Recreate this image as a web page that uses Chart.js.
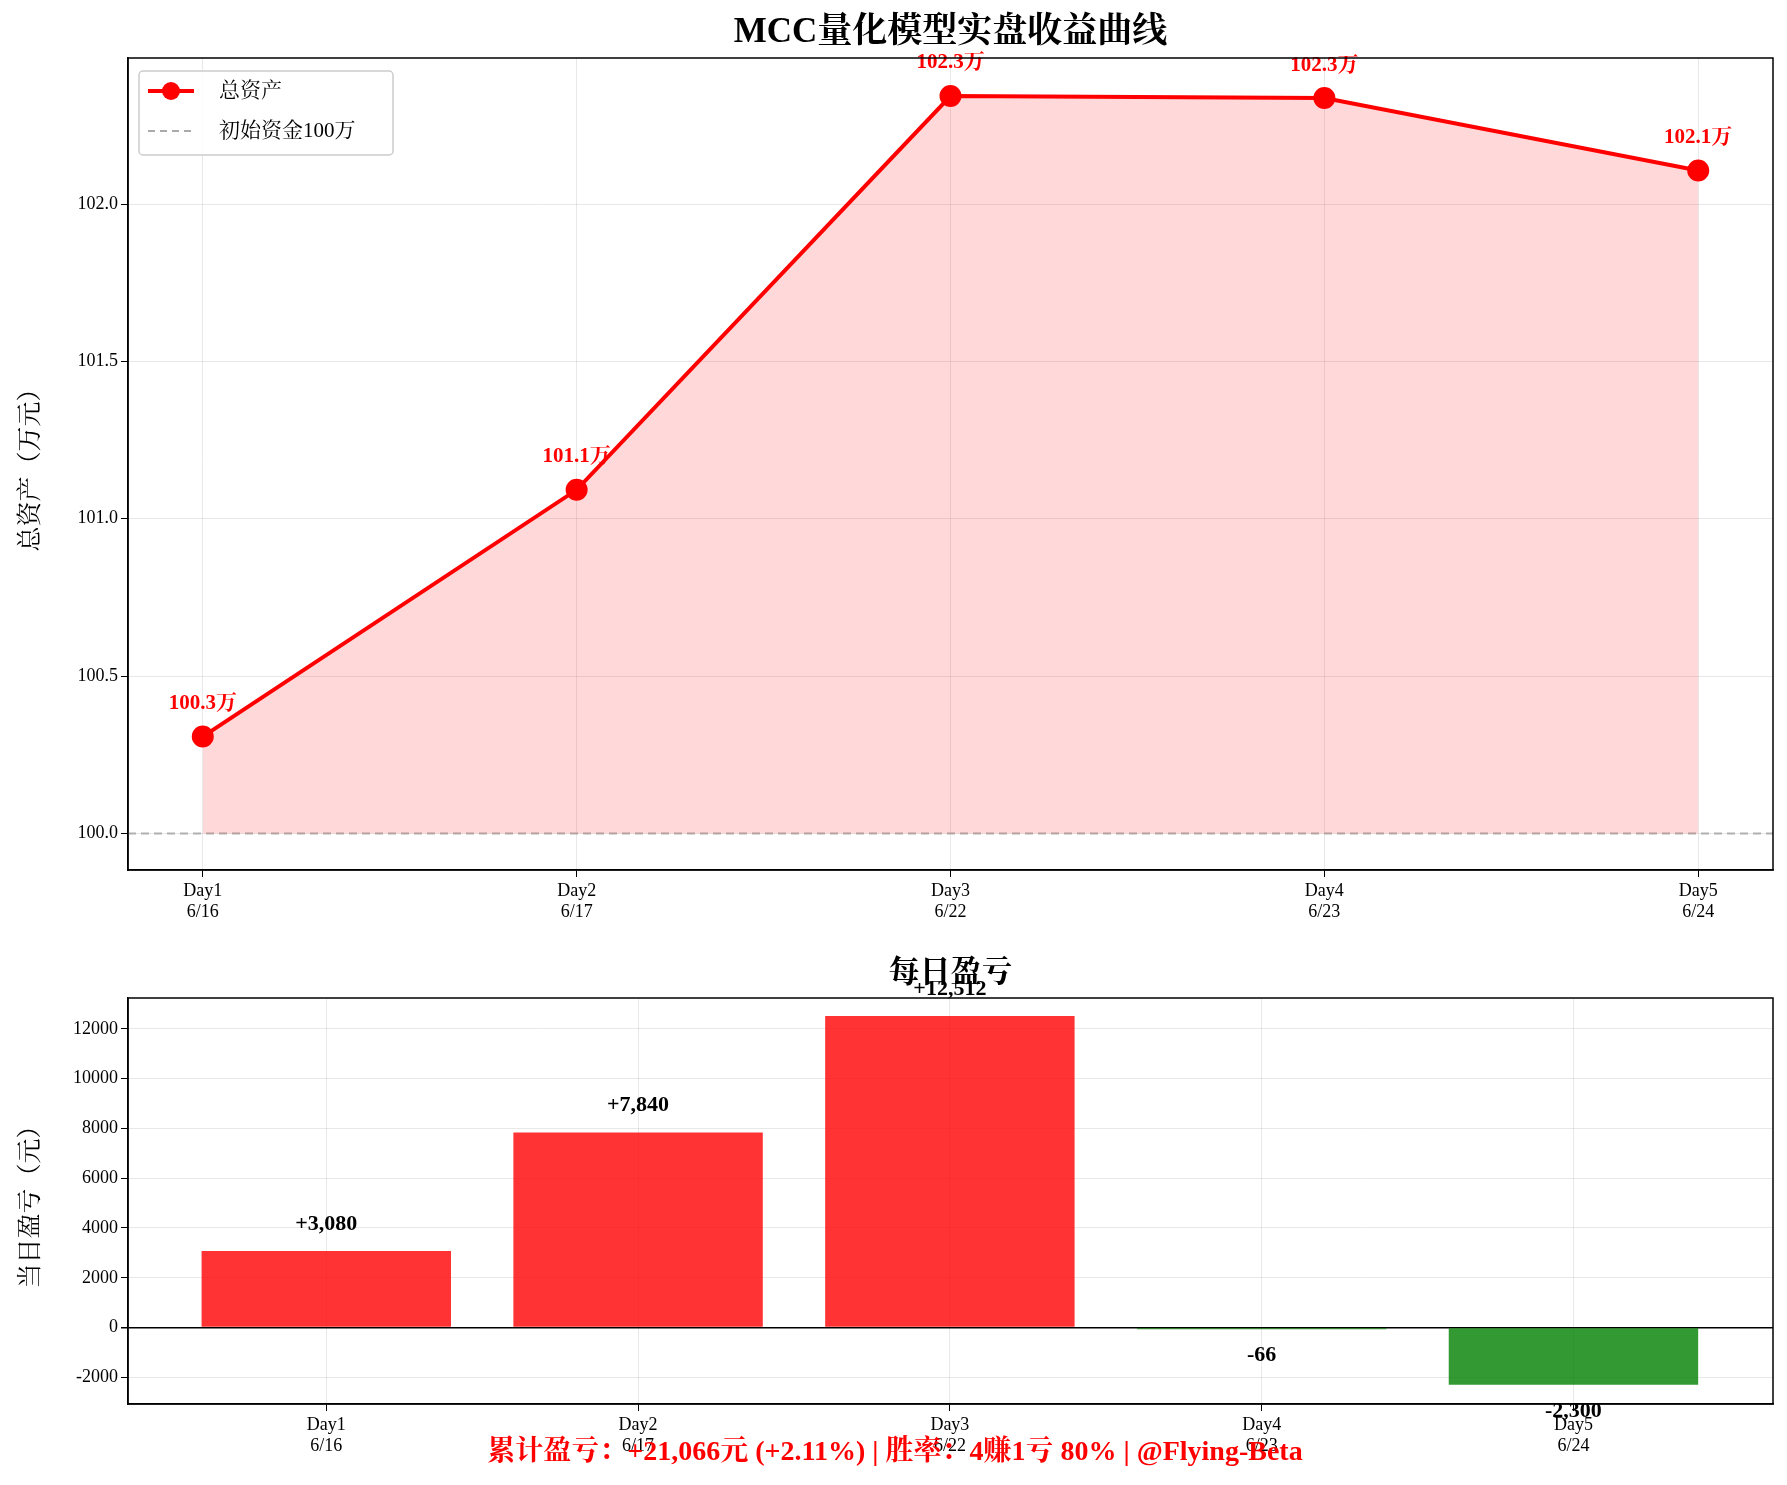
<!DOCTYPE html>
<html>
<head>
<meta charset="utf-8">
<script src="https://cdn.jsdelivr.net/npm/chart.js@4"></script>
<style>
body { margin: 0; background: #fff; }
#top { position: absolute; left: 0; top: 0; }
#bottom { position: absolute; left: 0; top: 940px; }
</style>
</head>
<body>
<canvas id="top" width="1787" height="940"></canvas>
<canvas id="bottom" width="1787" height="545"></canvas>
<script>
'use strict'
const days = ["Day1", "Day2", "Day3", "Day4", "Day5"]
const dates = ["6/16", "6/17", "6/22", "6/23", "6/24"]
const assets = [100.308, 101.092, 102.3432, 102.3366, 102.1066]
const pnl = [3080, 7840, 12512, -66, -2300]
const baseline = 100
const assetTicks = [100.0, 100.5, 101.0, 101.5, 102.0]
const pnlTicks = [-2000, 0, 2000, 4000, 6000, 8000, 10000, 12000]
const footer = "累计盈亏：+21,066元 (+2.11%) | 胜率：4赚1亏 80% | @Flying-Beta"

const FONT = "'Liberation Serif', 'Noto Serif CJK SC', 'Noto Sans CJK SC', serif"
Chart.defaults.font.family = FONT
Chart.defaults.animation = false
Chart.defaults.responsive = false

const gridColor = 'rgba(0,0,0,0.09)'
const xTickLabel = function (v) {
    return Number.isInteger(v) && v >= 0 && v < days.length ? [days[v], dates[v]] : ''
}

// box around the plot area, like matplotlib spines
const frame = {
    id: 'frame',
    afterDraw(chart) {
        const a = chart.chartArea
        const ctx = chart.ctx
        ctx.save()
        ctx.strokeStyle = '#000'
        ctx.lineWidth = 1.5
        ctx.strokeRect(a.left, a.top, a.right - a.left, a.bottom - a.top)
        ctx.restore()
    }
}

// ---------- top chart ----------
const topDrawings = {
    id: 'topDrawings',
    afterDatasetsDraw(chart) {
        const ctx = chart.ctx
        const area = chart.chartArea
        ctx.save()
        ctx.fillStyle = '#000'
        ctx.textAlign = 'center'
        ctx.textBaseline = 'middle'
        ctx.font = "bold 35px " + FONT
        ctx.fillText("MCC量化模型实盘收益曲线", (area.left + area.right) / 2, 33)
        // point labels
        ctx.fillStyle = 'red'
        ctx.font = "bold 21px " + FONT
        const meta = chart.getDatasetMeta(0)
        meta.data.forEach(function (p, i) {
            ctx.fillText(assets[i].toFixed(1) + "万", p.x, p.y - 33)
        })
        // legend
        const lx = area.left + 11, ly = area.top + 13
        ctx.fillStyle = 'rgba(255,255,255,0.85)'
        ctx.strokeStyle = '#ccc'
        ctx.lineWidth = 1.5
        ctx.beginPath()
        ctx.roundRect(lx, ly, 254, 84, 4)
        ctx.fill()
        ctx.stroke()
        ctx.strokeStyle = 'red'
        ctx.lineWidth = 4
        ctx.beginPath()
        ctx.moveTo(lx + 9, ly + 20); ctx.lineTo(lx + 55, ly + 20); ctx.stroke()
        ctx.fillStyle = 'red'
        ctx.beginPath(); ctx.arc(lx + 32, ly + 20, 9, 0, Math.PI * 2); ctx.fill()
        ctx.strokeStyle = '#aaa'
        ctx.lineWidth = 2
        ctx.setLineDash([7, 5])
        ctx.beginPath()
        ctx.moveTo(lx + 9, ly + 60); ctx.lineTo(lx + 55, ly + 60); ctx.stroke()
        ctx.setLineDash([])
        ctx.fillStyle = '#000'
        ctx.textAlign = 'left'
        ctx.font = "21px " + FONT
        ctx.fillText("总资产", lx + 80, ly + 20)
        ctx.fillText("初始资金100万", lx + 80, ly + 60)
        ctx.restore()
    }
}

new Chart(document.getElementById('top'), {
    type: 'line',
    data: {
        datasets: [{
            data: assets.map(function (v, i) { return { x: i, y: v } }),
            borderColor: 'red',
            borderWidth: 4,
            pointRadius: 9,
            pointBackgroundColor: 'red',
            pointBorderColor: 'red',
            fill: { value: baseline },
            backgroundColor: 'rgba(255,0,0,0.15)',
            tension: 0
        }, {
            data: [{ x: -0.2, y: baseline }, { x: 4.2, y: baseline }],
            borderColor: '#b0b0b0',
            borderWidth: 2,
            borderDash: [8, 5],
            pointRadius: 0,
            fill: false
        }]
    },
    options: {
        layout: { padding: { top: 58, right: 14, left: 12, bottom: 0 } },
        plugins: { legend: { display: false }, tooltip: { enabled: false } },
        scales: {
            x: {
                type: 'linear', min: -0.2, max: 4.2,
                afterBuildTicks: function (s) { s.ticks = [0, 1, 2, 3, 4].map(function (v) { return { value: v } }) },
                afterFit: function (s) { s.height = 70 },
                ticks: { callback: xTickLabel, color: '#000', font: { size: 18 }, maxRotation: 0 },
                grid: { color: gridColor, tickColor: '#000', tickLength: 7 },
                border: { color: '#000', width: 1.5 }
            },
            y: {
                min: 99.884, max: 102.464,
                afterBuildTicks: function (s) { s.ticks = assetTicks.map(function (v) { return { value: v } }) },
                afterFit: function (s) { s.width = 116 },
                ticks: { callback: function (v) { return v.toFixed(1) }, color: '#000', font: { size: 18 } },
                grid: { color: gridColor, tickColor: '#000', tickLength: 7 },
                border: { color: '#000', width: 1.5 },
                title: { display: true, text: "总资产（万元）", color: '#000', font: { size: 25 } }
            }
        }
    },
    plugins: [topDrawings, frame]
})

// ---------- bottom chart ----------
const bottomDrawings = {
    id: 'bottomDrawings',
    afterDatasetsDraw(chart) {
        const ctx = chart.ctx
        const area = chart.chartArea
        ctx.save()
        ctx.textAlign = 'center'
        ctx.textBaseline = 'middle'
        ctx.fillStyle = '#000'
        ctx.font = "bold 31px " + FONT
        ctx.fillText("每日盈亏", (area.left + area.right) / 2, 34)
        ctx.font = "bold 22px " + FONT
        const meta = chart.getDatasetMeta(0)
        meta.data.forEach(function (b, i) {
            const v = pnl[i]
            const txt = (v > 0 ? "+" : "") + v.toLocaleString('en-US')
            ctx.fillText(txt, b.x, v >= 0 ? b.y - 27 : b.y + 26)
        })
        ctx.fillStyle = 'red'
        ctx.font = "bold 28px " + FONT
        ctx.fillText(footer, 895, chart.height - 32)
        ctx.restore()
    }
}

new Chart(document.getElementById('bottom'), {
    type: 'bar',
    data: {
        datasets: [{
            data: pnl.map(function (v, i) { return { x: i, y: v } }),
            backgroundColor: pnl.map(function (v) { return v >= 0 ? 'rgba(255,0,0,0.8)' : 'rgba(0,128,0,0.8)' }),
            barPercentage: 1,
            categoryPercentage: 0.8
        }]
    },
    options: {
        layout: { padding: { top: 58, right: 14, left: 12, bottom: 0 } },
        plugins: { legend: { display: false }, tooltip: { enabled: false } },
        scales: {
            x: {
                type: 'linear', min: -0.636, max: 4.64, offset: false,
                afterBuildTicks: function (s) { s.ticks = [0, 1, 2, 3, 4].map(function (v) { return { value: v } }) },
                afterFit: function (s) { s.height = 81 },
                ticks: { callback: xTickLabel, color: '#000', font: { size: 18 }, maxRotation: 0 },
                grid: { offset: false, color: gridColor, tickColor: '#000', tickLength: 7 },
                border: { color: '#000', width: 1.5 }
            },
            y: {
                min: -3069, max: 13237,
                afterBuildTicks: function (s) { s.ticks = pnlTicks.map(function (v) { return { value: v } }) },
                afterFit: function (s) { s.width = 116 },
                ticks: { callback: function (v) { return String(v) }, color: '#000', font: { size: 18 } },
                grid: {
                    color: function (c) { return c.tick && c.tick.value === 0 ? '#000' : gridColor },
                    lineWidth: function (c) { return c.tick && c.tick.value === 0 ? 1.5 : 1 },
                    tickColor: '#000', tickLength: 7
                },
                border: { color: '#000', width: 1.5 },
                title: { display: true, text: "当日盈亏（元）", color: '#000', font: { size: 25 } }
            }
        }
    },
    plugins: [bottomDrawings, frame]
})
</script>
</body>
</html>
